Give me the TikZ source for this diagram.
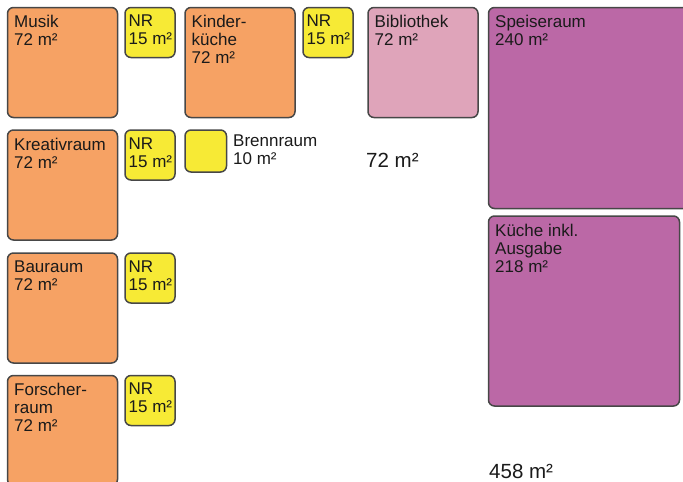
\documentclass[tikz,border=0pt]{standalone}
\usepackage{fontspec}
\setmainfont{Liberation Sans}
\definecolor{roomorange}{HTML}{F6A264}
\definecolor{roomyellow}{HTML}{F7EA35}
\definecolor{roompink}{HTML}{DFA4BA}
\definecolor{roompurple}{HTML}{BB68A6}
\definecolor{roomedge}{HTML}{474747}
\definecolor{roomtext}{HTML}{1A1A1A}
\tikzset{
  room/.style={draw=roomedge, line width=1.5pt, rounded corners=6pt,
    rectangle, anchor=north west, inner sep=0pt, outer sep=0pt},
  big/.style={room, fill=roomorange, minimum width=110pt, minimum height=110pt},
  nr/.style={room, fill=roomyellow, minimum width=50pt, minimum height=50pt},
  lbl/.style={anchor=north west, inner sep=0pt, align=left, text=roomtext,
    font=\fontsize{17}{18}\selectfont},
  total/.style={anchor=base west, inner sep=0pt, text=roomtext,
    font=\fontsize{20.5}{24}\selectfont},
}
\begin{document}
\begin{tikzpicture}[x=1pt,y=-1pt]
\useasboundingbox (0,0) rectangle (683,482);
\clip (0,0) rectangle (683,482);

% left column: group rooms with their side rooms
\node[big] (musik)   at (7.5,7.5)   {};
\node[nr]  (nr1)     at (125,7.5)   {};
\node[big] (kreativ) at (7.5,130)   {};
\node[nr]  (nr3)     at (125,130)   {};
\node[big] (bau)     at (7.5,253)   {};
\node[nr]  (nr4)     at (125,253)   {};
\node[big] (forscher) at (7.5,375.5) {};
\node[nr]  (nr5)     at (125,375.5) {};

% second column
\node[big] (kinder) at (185,7.5) {};
\node[nr]  (nr2)    at (303,7.5) {};
\node[room, fill=roomyellow, minimum width=41.5pt, minimum height=42pt] (brenn) at (185,130) {};

% library
\node[room, fill=roompink, minimum width=110pt, minimum height=110pt] (bib) at (368,7.5) {};

% dining and kitchen
\node[room, fill=roompurple, minimum width=210pt, minimum height=201pt] (speise) at (488.5,7.5) {};
\node[room, fill=roompurple, minimum width=191pt, minimum height=190pt] (kueche) at (488.5,216) {};

% room labels
\node[lbl] at ([shift={(6.5,7.5)}]musik.north west)    {Musik\\72 m²};
\node[lbl] at ([shift={(3.5,7.5)}]nr1.north west)      {NR\\15 m²};
\node[lbl] at ([shift={(6.5,7.5)}]kinder.north west)   {Kinder-\\küche\\72 m²};
\node[lbl] at ([shift={(3.5,7.5)}]nr2.north west)      {NR\\15 m²};
\node[lbl] at ([shift={(6.5,7.5)}]bib.north west)      {Bibliothek\\72 m²};
\node[lbl] at ([shift={(6.5,7.5)}]speise.north west)   {Speiseraum\\240 m²};
\node[lbl] at ([shift={(6.5,7.5)}]kreativ.north west)  {Kreativraum\\72 m²};
\node[lbl] at ([shift={(3.5,7.5)}]nr3.north west)      {NR\\15 m²};
\node[lbl] (brennlbl) at ([shift={(48,5)}]brenn.north west) {Brennraum\\10 m²};
\node[lbl] at ([shift={(6.5,7.5)}]kueche.north west)   {Küche inkl.\\Ausgabe\\218 m²};
\node[lbl] at ([shift={(6.5,7.5)}]bau.north west)      {Bauraum\\72 m²};
\node[lbl] at ([shift={(3.5,7.5)}]nr4.north west)      {NR\\15 m²};
\node[lbl] at ([shift={(6.5,7.5)}]forscher.north west) {Forscher-\\raum\\72 m²};
\node[lbl] at ([shift={(3.5,7.5)}]nr5.north west)      {NR\\15 m²};

% area totals
\node[total] (bibsum) at (366,167) {72 m²};
\node[total] (kuechesum) at (489,478) {458 m²};
\end{tikzpicture}
\end{document}
